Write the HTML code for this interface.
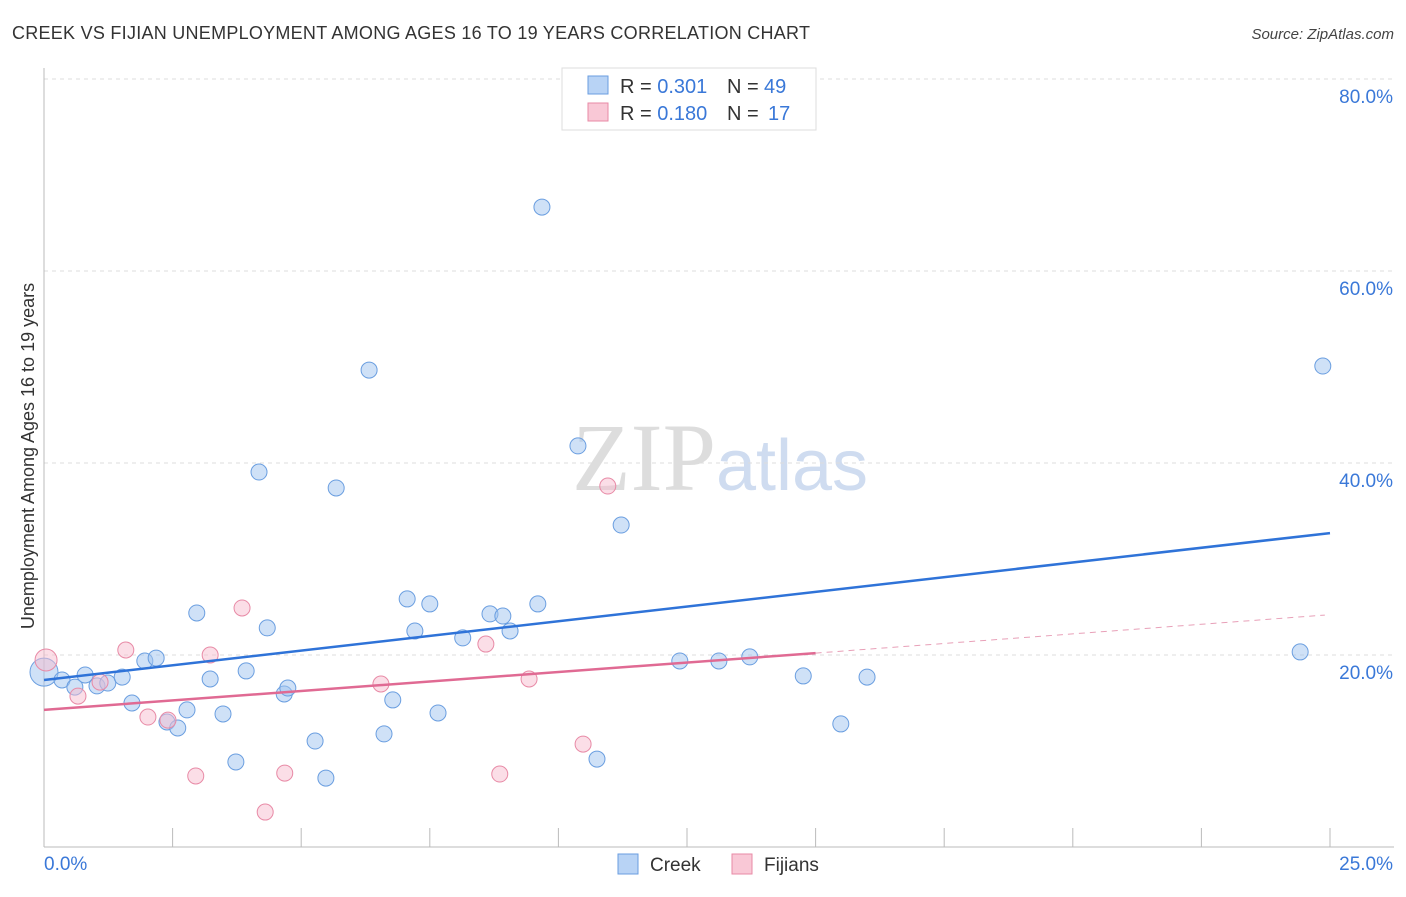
<!DOCTYPE html>
<html><head><meta charset="utf-8"><style>
body{margin:0;background:#fff;font-family:"Liberation Sans",sans-serif}
</style></head><body>
<svg id="chart" width="1406" height="892" xmlns="http://www.w3.org/2000/svg" style="font-family:'Liberation Sans',sans-serif">
<text x="12" y="39" font-size="18" fill="#333" textLength="798">CREEK VS FIJIAN UNEMPLOYMENT AMONG AGES 16 TO 19 YEARS CORRELATION CHART</text>
<text x="1394" y="39" font-size="15" fill="#444" text-anchor="end" font-style="italic">Source: ZipAtlas.com</text>
<text x="720" y="490" font-size="96" text-anchor="middle" fill="#ddd" font-family="Liberation Serif">ZIP<tspan fill="#cfdcf0" font-family="Liberation Sans" font-size="72">atlas</tspan></text>
<text transform="translate(34,456) rotate(-90)" font-size="18" fill="#333" text-anchor="middle">Unemployment Among Ages 16 to 19 years</text>
<g id="grid"></g><g id="axes"></g><g id="marks"></g>
<g>
<rect x="562" y="68" width="254" height="62" fill="#fff" stroke="#ddd"/>
<rect x="588" y="76" width="20" height="18" fill="#b8d3f5" stroke="#6a9ee0"/>
<text x="620" y="93" font-size="20" fill="#333">R = <tspan fill="#3a78d8">0.301</tspan></text>
<text x="727" y="93" font-size="20" fill="#333">N =</text>
<text x="764" y="93" font-size="20" fill="#3a78d8">49</text>
<rect x="588" y="103" width="20" height="18" fill="#f9c8d6" stroke="#e88aa6"/>
<text x="620" y="120" font-size="20" fill="#333">R = <tspan fill="#3a78d8">0.180</tspan></text>
<text x="727" y="120" font-size="20" fill="#333">N =</text>
<text x="768" y="120" font-size="20" fill="#3a78d8">17</text>
</g>
<g>
<rect x="618" y="854" width="20" height="20" fill="#b8d3f5" stroke="#6a9ee0"/>
<text x="650" y="871" font-size="19" fill="#333">Creek</text>
<rect x="732" y="854" width="20" height="20" fill="#f9c8d6" stroke="#e88aa6"/>
<text x="764" y="871" font-size="19" fill="#333">Fijians</text>
</g>
</svg>
<script>
const creekX=[0,0.35,0.60,0.80,1.03,1.24,1.52,1.71,1.96,2.18,2.39,2.60,2.78,2.97,3.23,3.48,3.73,3.93,4.18,4.34,4.67,4.74,5.27,5.48,5.68,6.32,6.61,6.78,7.06,7.21,7.50,7.66,8.14,8.67,8.92,9.06,9.60,9.68,10.38,10.75,11.22,12.36,13.12,13.72,14.76,15.49,16.00,24.42,24.86];
const creekY=[18.22,17.40,16.66,17.92,16.78,17.08,17.70,15.00,19.38,19.68,13.02,12.40,14.28,24.38,17.50,13.86,8.86,18.34,39.06,22.82,15.94,16.56,11.04,7.18,37.40,49.68,11.78,15.32,25.84,22.50,25.32,13.96,21.78,24.28,24.06,22.50,25.32,66.66,41.78,9.16,33.54,19.38,19.38,19.80,17.82,12.82,17.70,20.32,50.10];
const fijiX=[0.04,0.66,1.09,1.59,2.02,2.41,2.95,3.23,3.85,4.30,4.68,6.55,8.59,8.86,9.43,10.48,10.96];
const fijiY=[19.48,15.72,17.18,20.52,13.54,13.22,7.40,20.0,24.90,3.64,7.70,16.98,21.14,7.60,17.50,10.72,37.60];
const yTicks=[20,40,60,80];
const yTickLabels=["20.0%","40.0%","60.0%","80.0%"];
const creekLine=[[0,17.4],[25,32.7]];
const fijiLine=[[0,14.28],[15,20.2]];
const fijiDash=[[15,20.2],[24.9,24.16]];
const ns="http://www.w3.org/2000/svg";
const X=v=>44+v*51.44, Y=v=>847-v*9.6;
function mk(t,a,p){const e=document.createElementNS(ns,t);for(const k in a)e.setAttribute(k,a[k]);document.getElementById(p).appendChild(e);return e;}
yTicks.forEach((t,i)=>{
 const g=mk('line',{x1:44,x2:1394,y1:Y(t),y2:Y(t),stroke:'#ddd','stroke-dasharray':'4,4'},'grid');
 
 
 const l=mk('text',{x:1393,y:Y(t)+24,'font-size':19,fill:'#3a78d8','text-anchor':'end'},'axes');
 l.textContent=yTickLabels[i];
 
 
});
mk('line',{x1:44,x2:44,y1:68,y2:847,stroke:'#bbb'},'axes');
const xa=mk('line',{x1:44,x2:1394,y1:847,y2:847,stroke:'#bbb'},'axes');


for(let i=0;i<=10;i++){mk('line',{x1:X(i*2.5),x2:X(i*2.5),y1:828,y2:847,stroke:'#bbb'},'axes');}
let t0=mk('text',{x:44,y:870,'font-size':19,fill:'#3a78d8'},'axes');t0.textContent='0.0%';


let t1=mk('text',{x:1393,y:870,'font-size':19,fill:'#3a78d8','text-anchor':'end'},'axes');t1.textContent='25.0%';


creekX.forEach((v,i)=>{
 const c=mk('circle',{cx:X(v),cy:Y(creekY[i]),r:i==0?14:8,fill:'rgba(160,195,240,0.5)',stroke:'#6a9ee0','stroke-width':1},'marks');
 
 
});
fijiX.forEach((v,i)=>{
 const c=mk('circle',{cx:X(v),cy:Y(fijiY[i]),r:i==0?11:8,fill:'rgba(248,190,208,0.5)',stroke:'#e88aa6','stroke-width':1},'marks');
 
 
});
const l1=mk('line',{x1:X(creekLine[0][0]),y1:Y(creekLine[0][1]),x2:X(creekLine[1][0]),y2:Y(creekLine[1][1]),stroke:'#2f73d8','stroke-width':2.5},'marks');


const l2=mk('line',{x1:X(fijiLine[0][0]),y1:Y(fijiLine[0][1]),x2:X(fijiLine[1][0]),y2:Y(fijiLine[1][1]),stroke:'#e06a93','stroke-width':2.5},'marks');


const l3=mk('line',{x1:X(fijiDash[0][0]),y1:Y(fijiDash[0][1]),x2:X(fijiDash[1][0]),y2:Y(fijiDash[1][1]),stroke:'#e8a0b8','stroke-width':1,'stroke-dasharray':'6,5'},'marks');


</script>
</body></html>
